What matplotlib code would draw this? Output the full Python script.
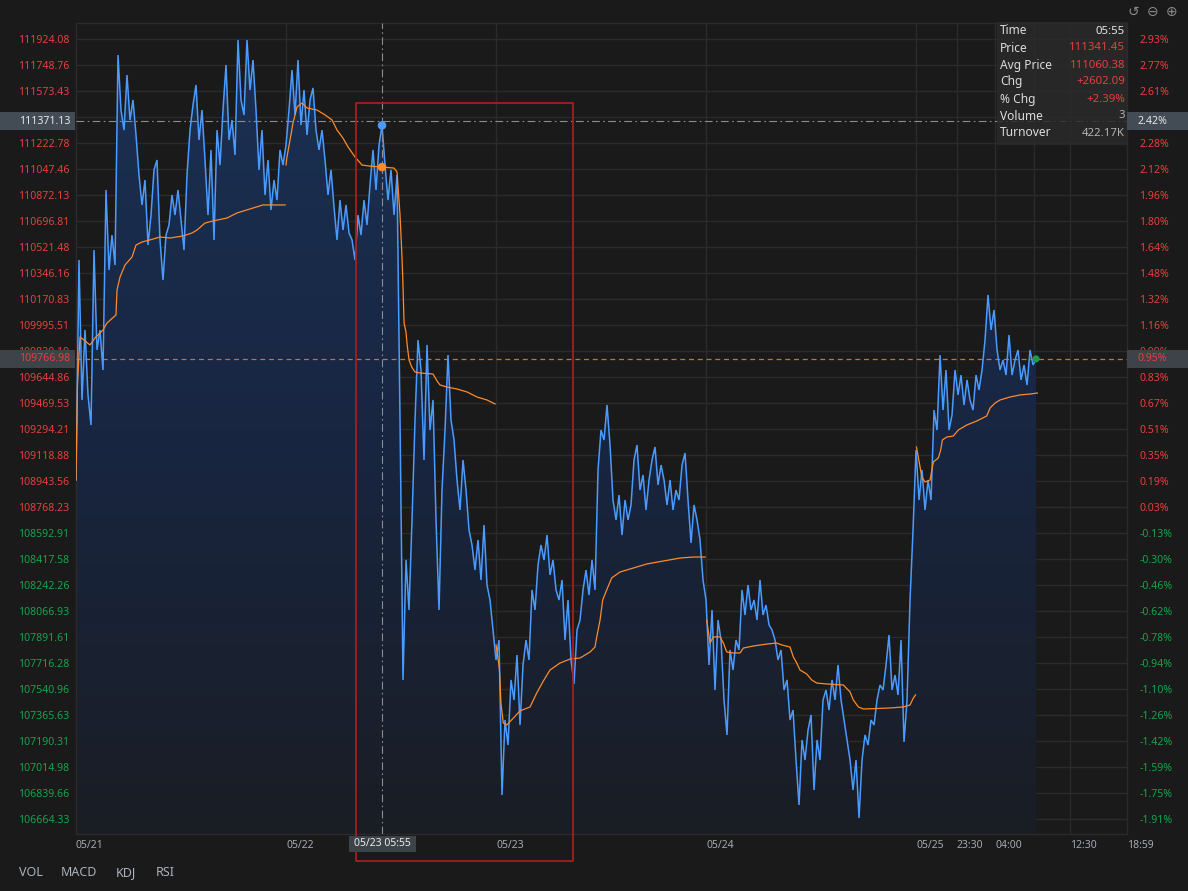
import numpy as np
import matplotlib
matplotlib.use('Agg')
import matplotlib.pyplot as plt
from matplotlib.patches import Rectangle
from matplotlib.transforms import blended_transform_factory as blend
from matplotlib.colors import LinearSegmentedColormap

plt.rcParams['font.family'] = ['Noto Sans', 'DejaVu Sans']

# ---------------- data ----------------
STEP_H = 24 / 70  # hours between price samples

price_d1 = [108950, 110434, 109490, 109962, 109524, 109321, 110501, 109827, 109962, 109692,
            110906, 110366, 110602, 110400, 111816, 111445, 111310, 111681, 111378, 111513,
            111277, 111007, 110805, 110973, 110535, 110737, 111041, 111108, 110569, 110299,
            110602, 110670, 110872, 110737, 110906, 110704, 110501, 111007, 111310, 111479,
            111614, 111243, 111445, 111108, 110737, 111176, 110569, 111310, 111074, 111445,
            111749, 111243, 111378, 111142, 111917, 111513, 111412, 111917, 111580, 111782,
            111445, 111041, 111310, 110872, 111108, 110771, 110973, 110838, 111176, 111074]
price_d2 = [111209, 111445, 111715, 111412, 111782, 111344, 111580, 111277, 111513, 111594,
            111310, 111176, 111310, 111108, 110872, 111041, 110791, 110569, 110838, 110636,
            110805, 110616, 110569, 110434, 110737, 110602, 110838, 110670, 110940, 111176,
            110906, 111209, 111341.45, 111074, 110838, 111041, 110737, 111007, 109355, 107602,
            108411, 108074, 108681, 109355, 109894, 109692, 109085, 109861, 109287, 109490,
            108681, 108074, 108883, 109287, 109793, 109355, 109220, 108950, 108748, 109085,
            108883, 108613, 108512, 108343, 108546, 108276, 108647, 108242, 108141, 107939]
price_d3 = [107737, 107871, 106826, 107332, 107163, 107602, 107467, 107770, 107298, 107703,
            107871, 107737, 108209, 108074, 108377, 108512, 108411, 108579, 108310, 108411,
            108209, 108141, 108276, 107871, 108141, 107737, 107575, 107939, 108006, 108209,
            108343, 108175, 108411, 108209, 109018, 109287, 109220, 109456, 109186, 108815,
            108681, 108849, 108579, 108815, 108681, 108782, 109085, 109186, 108883, 108984,
            108748, 108950, 109085, 109173, 108917, 109051, 108950, 108782, 108950, 108748,
            108883, 108815, 109051, 109132, 108815, 108526, 108782, 108681, 108546, 108276]
price_d4 = [108141, 107703, 108074, 107534, 108006, 107871, 107467, 107231, 107804, 107669,
            107871, 107804, 108209, 108040, 108242, 108074, 108141, 108006, 108276, 108040,
            108107, 107973, 107939, 107871, 107737, 107804, 107534, 107602, 107332, 107399,
            107062, 106759, 107197, 107062, 107264, 107366, 106860, 107197, 107062, 107467,
            107534, 107399, 107602, 107467, 107703, 107467, 107332, 107197, 107062, 106860,
            107062, 106671, 107062, 107231, 107163, 107332, 107298, 107467, 107568, 107534,
            107703, 107905, 107534, 107635, 107501, 107871, 107184, 107467, 108141, 108613]
price_d5 = [109153, 108815, 109018, 108748, 108950, 108815, 109422, 109287, 109793, 109422,
            109692, 109287, 109389, 109692, 109524, 109658, 109456, 109625, 109490, 109422,
            109658, 109557, 109692, 109894, 110198, 109962, 110097, 109827, 109692, 109760,
            109658, 109928, 109658, 109760, 109827, 109625, 109726, 109591, 109827, 109726,
            109766.98]

avg_t_d1 = [0.0, 0.17, 0.46, 1.6, 2.17, 3.09, 3.54, 4.57, 4.69, 5.03, 5.6, 6.4, 6.86, 7.54,
            8.8, 9.6, 10.74, 12.23, 13.26, 13.83, 14.74, 15.66, 17.26, 18.4, 19.89, 21.37, 23.9]
avg_v_d1 = [108950, 109604, 109915, 109861, 109908, 109962, 110009, 110063, 110232, 110319,
            110400, 110454, 110535, 110555, 110575, 110589, 110582, 110596, 110616, 110636,
            110683, 110697, 110717, 110751, 110778, 110805, 110805]
avg_t_d2 = [24.0, 24.11, 24.46, 24.8, 25.26, 25.83, 26.4, 27.54, 28.46, 29.26, 29.83, 30.51,
            31.09, 31.89, 32.69, 33.6, 34.97, 36.34, 36.69, 37.03, 37.22, 37.34, 37.49, 37.71,
            37.86, 38.06, 38.37, 38.74, 39.31, 40.8, 41.26, 41.6, 42.4, 43.54, 44.69, 45.83,
            46.97, 47.89]
avg_v_d2 = [111074, 111128, 111243, 111358, 111466, 111492, 111459, 111445, 111412, 111378,
            111310, 111256, 111196, 111128, 111074, 111067, 111060.38, 111054, 111027, 110737,
            110501, 110319, 110009, 109948, 109854, 109760, 109712, 109679, 109672, 109665,
            109618, 109591, 109577, 109564, 109544, 109510, 109490, 109463]
avg_t_d3 = [48.0, 48.38, 48.57, 48.83, 49.22, 49.98, 50.74, 51.89, 52.65, 53.41, 54.17, 55.31,
            56.46, 57.6, 58.74, 59.31, 59.51, 59.89, 60.19, 60.65, 61.22, 62.17, 63.31, 65.22,
            67.12, 69.03, 70.55, 71.9]
avg_v_d3 = [107838, 107683, 107440, 107312, 107298, 107345, 107393, 107420, 107514, 107595,
            107669, 107716, 107743, 107750, 107790, 107824, 107892, 108006, 108141, 108209,
            108290, 108330, 108350, 108384, 108404, 108424, 108431, 108431]
avg_t_d4 = [72.08, 72.46, 72.83, 73.6, 73.98, 74.37, 75.12, 75.89, 76.26, 77.41, 78.94, 80.08,
            80.65, 81.6, 81.98, 82.37, 82.74, 83.51, 84.08, 84.65, 85.79, 87.69, 88.46, 88.83,
            89.41, 89.98, 93.03, 94.55, 95.31, 95.69, 95.95]
avg_v_d4 = [108006, 107851, 107892, 107892, 107851, 107790, 107784, 107784, 107817, 107831,
            107844, 107851, 107838, 107824, 107757, 107716, 107669, 107642, 107602, 107581,
            107575, 107568, 107521, 107467, 107420, 107406, 107413, 107420, 107433, 107480,
            107501]
avg_t_d5 = [96.05, 96.46, 96.65, 97.03, 97.6, 97.98, 98.55, 98.82, 99.01, 99.51, 100.26, 100.83,
            101.79, 102.94, 104.08, 104.46, 105.03, 105.6, 106.74, 107.89, 109.03, 109.86]
avg_v_d5 = [109173, 109038, 108971, 108937, 108950, 109072, 109099, 109153, 109220, 109240,
            109247, 109287, 109321, 109348, 109382, 109436, 109469, 109490, 109510, 109524,
            109530, 109537]

left_ticks = [111924.08, 111748.76, 111573.43, 111398.11, 111222.78, 111047.46, 110872.13,
              110696.81, 110521.48, 110346.16, 110170.83, 109995.51, 109820.19, 109644.86,
              109469.53, 109294.21, 109118.88, 108943.56, 108768.23, 108592.91, 108417.58,
              108242.26, 108066.93, 107891.61, 107716.28, 107540.96, 107365.63, 107190.31,
              107014.98, 106839.66, 106664.33]
hidden_tick = 111398.11  # fully covered by the crosshair price box in the reference
BASE = 108739.36

x_tick_pos = [0, 24, 48, 72, 96, 100.65, 105.03, 113.6, 120.11]
x_tick_lab = ['05/21', '05/22', '05/23', '05/24', '05/25', '23:30', '04:00', '12:30', '18:59']
x_grid_pos = [24, 48, 72, 96, 100.65, 105.03, 109.52, 113.6]

hover_idx = 102
hover_time_label = '05/23 05:55'
hover_price = 111341.45
hover_avg = 111060.38
hover_cross_price = 111371.13
last_price = 109766.98
info_rows = [('Time', '05:55'), ('Price', '111341.45'), ('Avg Price', '111060.38'),
             ('Chg', '+2602.09'), ('% Chg', '+2.39%'), ('Volume', '3'), ('Turnover', '422.17K')]

# ---------------- figure ----------------
W, H = 1188, 891
BG = '#1a1a1b'
GRID = '#2b2b2c'
RED = '#e5413c'
GREEN = '#17a34a'
BLUE = '#4a9bff'
ORANGE = '#ff8a2a'

fig = plt.figure(figsize=(W / 100, H / 100), dpi=100)
fig.patch.set_facecolor(BG)
ax = fig.add_axes([76 / W, 1 - 834 / H, (1127 - 76) / W, (834 - 23) / H])
ax.set_facecolor(BG)

price = np.array(price_d1 + price_d2 + price_d3 + price_d4 + price_d5, dtype=float)
t = np.arange(len(price)) * STEP_H

step = 175.325
ppx = step / 26  # price per pixel
YMIN = left_ticks[-1] - 15 * ppx
YMAX = left_ticks[0] + 16 * ppx
XMAX = 120.11

# gradient fill under price
poly = ax.fill_between(t, price, YMIN, facecolor='none', edgecolor='none')
grad = np.linspace(0, 1, 256).reshape(-1, 1)
cmap = LinearSegmentedColormap.from_list('g', ['#1a1d24', '#182642', '#1b3154'])
im = ax.imshow(grad, aspect='auto', cmap=cmap, origin='lower',
               extent=[t[0], t[-1], YMIN, YMAX], zorder=1, interpolation='bilinear')
im.set_clip_path(poly.get_paths()[0], transform=ax.transData)

ax.plot(t, price, color=BLUE, lw=1.1, zorder=4, solid_joinstyle='miter')
for at, av in [(avg_t_d1, avg_v_d1), (avg_t_d2, avg_v_d2), (avg_t_d3, avg_v_d3),
               (avg_t_d4, avg_v_d4), (avg_t_d5, avg_v_d5)]:
    ax.plot(at, av, color=ORANGE, lw=0.9, zorder=5)

ax.set_xlim(0, XMAX)
ax.set_ylim(YMIN, YMAX)

# grid
for v in left_ticks:
    ax.axhline(v, color=GRID, lw=1.0, zorder=0.5)
for xv in x_grid_pos:
    ax.axvline(xv, color=GRID, lw=1.0, zorder=0.5)
for s in ax.spines.values():
    s.set_color(GRID)
    s.set_linewidth(1.0)

# ticks
ax.set_yticks(left_ticks)
ax.set_yticklabels(['' if v == hidden_tick else '%.2f' % v for v in left_ticks])
ax.tick_params(axis='y', length=0, pad=5, labelsize=7.6)
for lab, v in zip(ax.get_yticklabels(), left_ticks):
    lab.set_color(RED if v > BASE else GREEN)

ax.set_xticks(x_tick_pos)
ax.set_xticklabels(x_tick_lab)
ax.tick_params(axis='x', length=0, pad=4, labelsize=7.5, labelcolor='#a3a9b0')
for lab in ax.get_xticklabels():
    lab.set_horizontalalignment('left')

ax2 = ax.twinx()
ax2.set_ylim(YMIN, YMAX)
ax2.set_yticks(left_ticks)
ax2.set_yticklabels(['' if v == hidden_tick else '%.2f%%' % ((v / BASE - 1) * 100)
                     for v in left_ticks])
ax2.tick_params(axis='y', length=0, pad=9, labelsize=7.6)
for lab, v in zip(ax2.get_yticklabels(), left_ticks):
    lab.set_color(RED if v > BASE else GREEN)
for s in ax2.spines.values():
    s.set_visible(False)

# current price line and crosshair
hx = t[hover_idx]
ax.axhline(last_price, color='#c0743c', lw=0.9, ls=(0, (4, 3)), zorder=3)
ax.axhline(hover_cross_price, color='#8c8c8c', lw=0.8, ls=(0, (7, 3, 1.5, 3)), zorder=6)
ax.axvline(hx, color='#8c8c8c', lw=0.8, ls=(0, (7, 3, 1.5, 3)), zorder=6)

ax.scatter([hx], [hover_price], s=38, color=BLUE, zorder=8, edgecolors='none')
ax.scatter([hx], [hover_avg], s=38, color=ORANGE, zorder=8, edgecolors='none')
ax.scatter([t[-1]], [last_price], s=26, color='#1f9a4a', zorder=8, edgecolors='none')

# highlight rectangle (extends below the axes)
rect_bottom = YMAX - (861 - 23) * ppx
rect_top = YMAX - (103 - 23) * ppx
rect = Rectangle((32.0, rect_bottom), 24.8, rect_top - rect_bottom,
                 fill=False, edgecolor='#a81e1e', lw=1.3, zorder=9, clip_on=False,
                 joinstyle='round')
ax.add_patch(rect)

# axis label boxes (figure-level so they sit over both tick-label columns)
trL = blend(fig.transFigure, ax.transData)
box_h = 18 * ppx
for price_v, face, tcol in [(hover_cross_price, '#434b55', '#e8e8e8'),
                            (last_price, '#3d4348', RED)]:
    fig.add_artist(Rectangle((0, price_v - box_h / 2), 75 / W, box_h, transform=trL,
                             facecolor=face, edgecolor='none', zorder=10))
    fig.text(70 / W, price_v, '%.2f' % price_v, transform=trL, color=tcol,
             fontsize=7.6, ha='right', va='center', zorder=11)
    fig.add_artist(Rectangle((1127 / W, price_v - box_h / 2), 61 / W, box_h, transform=trL,
                             facecolor=face, edgecolor='none', zorder=10))
    fig.text(1137 / W, price_v, '%.2f%%' % ((price_v / BASE - 1) * 100), transform=trL,
             color=tcol, fontsize=7.6, ha='left', va='center', zorder=11)

# bottom hover time box
trB = blend(ax.transData, fig.transFigure)
half_w = 33.5 / 8.75
fig.add_artist(Rectangle((hx - half_w, 1 - 852 / H), 2 * half_w, 16 / H, transform=trB,
                         facecolor='#3d4449', edgecolor='none', zorder=10))
fig.text(hx, 1 - 844 / H, hover_time_label, transform=trB, color='#ececec', fontsize=7.5,
         ha='center', va='center', zorder=11)

# info box
fig.add_artist(Rectangle((997 / W, 1 - 145 / H), 130 / W, 123 / H, transform=fig.transFigure,
                         facecolor='#2a2a2b', edgecolor='none', alpha=0.85, zorder=12))
val_colors = ['#e6e6e6', RED, RED, RED, RED, '#b4b4b4', '#b4b4b4']
for i, ((k, v), c) in enumerate(zip(info_rows, val_colors)):
    yy = 1 - (31 + 17 * i) / H
    fig.text(1000 / W, yy, k, color='#dcdcdc', fontsize=8.6, ha='left', va='center', zorder=13)
    fig.text(1125 / W, yy, v, color=c, fontsize=8.2, ha='right', va='center', zorder=13)

# top-right icons
for xi, s in [(1133, '\u21ba'), (1153, '\u2296'), (1172, '\u2295')]:
    fig.text(xi / W, 1 - 12 / H, s, color='#8a8a8a', fontsize=10, ha='center', va='center',
             family='DejaVu Sans')

# bottom indicator tabs
for xi, s in [(19, 'VOL'), (61, 'MACD'), (116, 'KDJ'), (156, 'RSI')]:
    fig.text(xi / W, 1 - 873 / H, s, color='#aab2bb', fontsize=9, ha='left', va='center')

fig.savefig('out.png', dpi=100, facecolor=BG)
